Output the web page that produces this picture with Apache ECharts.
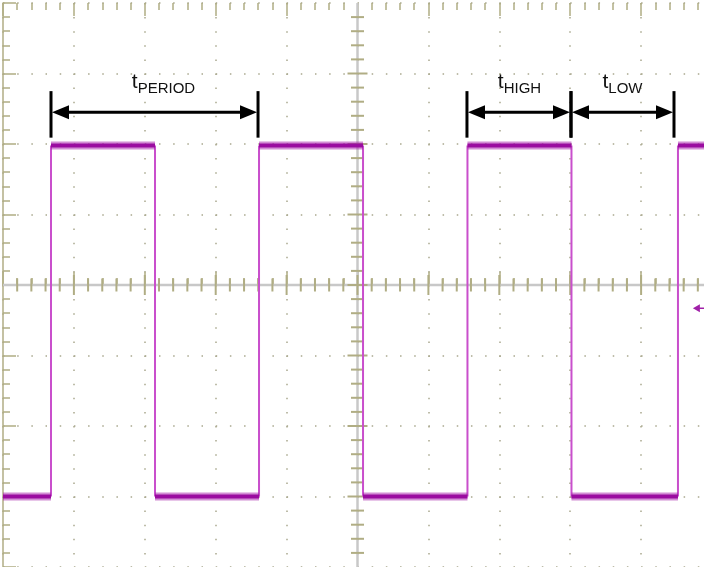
<!DOCTYPE html>
<html>
<head>
<meta charset="utf-8">
<script src="https://cdn.jsdelivr.net/npm/echarts@6/dist/echarts.min.js"></script>
<style>html,body{margin:0;padding:0;background:#fff}#c{width:704px;height:567px}</style>
</head>
<body>
<div id="c"></div>
<script>
// ---- data (in scope divisions) ----
const xRange = [0, 10];             // horizontal divisions
const yRange = [-4, 4];             // vertical divisions
const edgeTimes = [0.677, 2.144, 3.611, 5.078, 6.551, 8.018, 9.52]; // rising, falling, ...
const highLevel = 1.98;
const lowLevel = -3.0;
const startLevel = lowLevel;
const spanLabels = ['PERIOD', 'HIGH', 'LOW'];
const spanStart = [0.677, 6.544, 8.011];
const spanEnd = [3.597, 8.011, 9.464];
const spanLabelX = [2.264, 7.285, 8.738];
const arrowY = 2.45, barTop = 2.75, barBottom = 2.09, labelY = 2.68;
const channelMarker = [9.73, -0.33];

// build waveform
const flatPts = [], edgePts = [];
let lvl = startLevel, prevX = xRange[0];
edgeTimes.forEach(function (t) {
  flatPts.push([prevX, lvl], [t, lvl], [null, null]);
  const nl = lvl === lowLevel ? highLevel : lowLevel;
  edgePts.push([t, lvl], [t, nl], [null, null]);
  lvl = nl; prevX = t;
});
flatPts.push([prevX, lvl], [xRange[1], lvl]);

const OLIVE = '#b0ad84';
const DOT = '#a9a88e';
const FONT = 'Liberation Sans, Arial, sans-serif';
const chart = echarts.init(document.getElementById('c'));
const axisCommon = {
  type: 'value', axisLabel: {show: false},
  axisTick: {show: true, inside: true, length: 13, lineStyle: {color: OLIVE, width: 1.5}},
  minorTick: {show: true, splitNumber: 5, length: 7, lineStyle: {color: OLIVE, width: 1.5}}
};
chart.setOption({
  animation: false,
  backgroundColor: '#ffffff',
  grid: {left: 3, top: 3, width: 709, height: 564, outerBoundsMode: 'none', containLabel: false},
  xAxis: [
    Object.assign({}, axisCommon, {min: xRange[0], max: xRange[1], interval: 1, position: 'bottom',
      axisLine: {show: false},
      splitLine: {show: true, lineStyle: {color: DOT, width: 1.5, type: [1.5, 12.6]}}}),
    Object.assign({}, axisCommon, {min: xRange[0], max: xRange[1], interval: 1, position: 'top',
      axisLine: {show: false}, splitLine: {show: false}})
  ],
  yAxis: [
    Object.assign({}, axisCommon, {min: yRange[0], max: yRange[1], interval: 1, position: 'left',
      axisLine: {show: true, lineStyle: {color: OLIVE, width: 1.5}},
      splitLine: {show: true, lineStyle: {color: DOT, width: 1.5, type: [1.5, 12.68]}}})
  ],
  series: [
    { // center graticule cross
      type: 'custom', silent: true, z: 1,
      data: [[5, 0]],
      renderItem: function (params, api) {
        const ch = [];
        const l = api.coord([xRange[0], 0]), r = api.coord([xRange[1], 0]);
        const t = api.coord([5, yRange[1]]), b = api.coord([5, yRange[0]]);
        ch.push({type: 'line', shape: {x1: l[0], y1: l[1], x2: r[0], y2: r[1]}, style: {stroke: '#c8c8c8', lineWidth: 2.5}});
        ch.push({type: 'line', shape: {x1: t[0], y1: t[1], x2: b[0], y2: b[1]}, style: {stroke: '#c8c8c8', lineWidth: 2.5}});
        for (let i = 1; i < 50; i++) {
          const x = xRange[0] + i * 0.2;
          const p = api.coord([x, 0]);
          const major = i % 5 === 0;
          const h = major ? 10 : 6.5;
          ch.push({type: 'line', shape: {x1: p[0], y1: p[1] - h, x2: p[0], y2: p[1] + h}, style: {stroke: OLIVE, lineWidth: 2}});
        }
        for (let i = 1; i < 40; i++) {
          const y = yRange[0] + i * 0.2;
          const p = api.coord([5, y]);
          const major = i % 5 === 0;
          const h = major ? 10 : 6.5;
          ch.push({type: 'line', shape: {x1: p[0] - h, y1: p[1], x2: p[0] + h, y2: p[1]}, style: {stroke: OLIVE, lineWidth: 2}});
        }
        return {type: 'group', children: ch};
      }
    },
    {
      type: 'line', name: 'edges', data: edgePts, showSymbol: false, connectNulls: false, z: 3,
      lineStyle: {color: '#c94fcc', width: 2}
    },
    {
      type: 'line', name: 'levelsHalo', data: flatPts, showSymbol: false, connectNulls: false, z: 4,
      lineStyle: {color: 'rgba(165,30,170,0.5)', width: 8}
    },
    {
      type: 'line', name: 'levels', data: flatPts, showSymbol: false, connectNulls: false, z: 4,
      lineStyle: {color: '#9a0ca0', width: 4}
    },
    { // measurement annotations
      type: 'custom', silent: true, z: 5,
      data: spanLabels.map(function (s, i) { return [spanStart[i], spanEnd[i], spanLabelX[i], i]; }),
      renderItem: function (params, api) {
        const x1 = api.value(0), x2 = api.value(1), lx = api.value(2);
        const name = spanLabels[api.value(3)];
        const a = api.coord([x1, arrowY]), b = api.coord([x2, arrowY]);
        const bt = api.coord([x1, barTop]), bb = api.coord([x1, barBottom]);
        const bt2 = api.coord([x2, barTop]);
        const lp = api.coord([lx, labelY]);
        const black = '#000';
        const ah = 18, aw = 7;
        return {type: 'group', children: [
          {type: 'line', shape: {x1: bt[0], y1: bt[1], x2: bb[0], y2: bb[1]}, style: {stroke: black, lineWidth: 3}},
          {type: 'line', shape: {x1: bt2[0], y1: bt2[1], x2: b[0], y2: bb[1]}, style: {stroke: black, lineWidth: 3}},
          {type: 'line', shape: {x1: a[0] + 10, y1: a[1], x2: b[0] - 10, y2: b[1]}, style: {stroke: black, lineWidth: 3}},
          {type: 'polygon', shape: {points: [[a[0] + 1, a[1]], [a[0] + ah, a[1] - aw], [a[0] + ah, a[1] + aw]]}, style: {fill: black}},
          {type: 'polygon', shape: {points: [[b[0] - 1, b[1]], [b[0] - ah, b[1] - aw], [b[0] - ah, b[1] + aw]]}, style: {fill: black}},
          {type: 'text', x: lp[0], y: lp[1], style: {
            text: '{t|t}{s|' + name + '}', align: 'center', verticalAlign: 'bottom',
            rich: {
              t: {fontFamily: FONT, fontSize: 21, lineHeight: 28, fill: '#111', verticalAlign: 'middle'},
              s: {fontFamily: FONT, fontSize: 15, lineHeight: 14, fill: '#111', verticalAlign: 'bottom'}
            }
          }}
        ]};
      }
    },
    { // channel reference marker
      type: 'custom', silent: true, z: 5,
      data: [channelMarker],
      renderItem: function (params, api) {
        const p = api.coord([api.value(0), api.value(1)]);
        return {type: 'group', children: [
          {type: 'line', shape: {x1: p[0] + 4, y1: p[1], x2: p[0] + 16, y2: p[1]}, style: {stroke: '#a020a8', lineWidth: 1.5}},
          {type: 'polygon', shape: {points: [[p[0], p[1]], [p[0] + 7, p[1] - 4], [p[0] + 7, p[1] + 4]]}, style: {fill: '#a020a8'}}
        ]};
      }
    }
  ]
});
</script>
</body>
</html>
